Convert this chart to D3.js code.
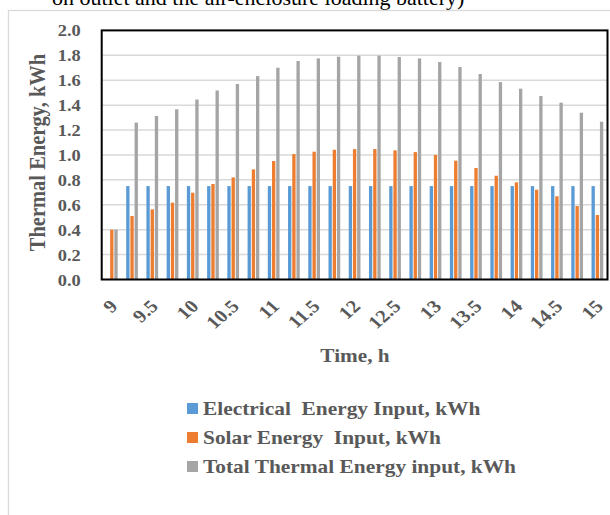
<!DOCTYPE html>
<html>
<head>
<meta charset="utf-8">
<script src="https://cdn.jsdelivr.net/npm/d3@7"></script>
<style>
  html, body { margin: 0; padding: 0; background: #fff; }
  svg { display: block; }
</style>
</head>
<body>
<svg id="chart" width="610" height="515"></svg>
<script>
// ---- data ----
const categories = ["9","9.25","9.5","9.75","10","10.25","10.5","10.75","11","11.25","11.5","11.75",
  "12","12.25","12.5","12.75","13","13.25","13.5","13.75","14","14.25","14.5","14.75","15"];
const tickLabels = ["9","9.5","10","10.5","11","11.5","12","12.5","13","13.5","14","14.5","15"];
const electrical = [0,0.75,0.75,0.75,0.75,0.75,0.75,0.75,0.75,0.75,0.75,0.75,0.75,0.75,0.75,0.75,0.75,0.75,0.75,0.75,0.75,0.75,0.75,0.75,0.75];
const solar = [0.40,0.51,0.563,0.617,0.697,0.767,0.82,0.884,0.951,1.007,1.026,1.042,1.047,1.047,1.037,1.023,1.0,0.954,0.895,0.833,0.78,0.721,0.668,0.59,0.518];
const total = [0.40,1.26,1.313,1.367,1.445,1.518,1.57,1.633,1.70,1.754,1.775,1.789,1.797,1.797,1.786,1.775,1.746,1.706,1.65,1.585,1.532,1.473,1.42,1.339,1.267];
const yTicks = [0,0.2,0.4,0.6,0.8,1.0,1.2,1.4,1.6,1.8,2.0];
const seriesNames = ["Electrical  Energy Input, kWh","Solar Energy  Input, kWh","Total Thermal Energy input, kWh"];
const seriesColors = ["#5b9bd5","#ed7d31","#a5a5a5"];
const seriesData = [electrical, solar, total];
const captionText = "on outlet and the air-enclosure loading battery)";

// ---- layout ----
const svg = d3.select("#chart");
const L = 101.7, R = 607.5, T = 30.4, B = 279.5;
const SX = 1.15; // horizontal stretch of the source picture's text
const txtColor = "#595959";
const serif = "'Liberation Serif','Times New Roman',serif";

// caption cropped at the top (as in the reference)
svg.append("text").attr("transform", `translate(52,5) scale(1.1,1)`)
  .attr("font-family", serif).attr("font-size", 20).attr("fill", "#000")
  .text(captionText);

// chart area border
svg.append("rect").attr("x", 8.5).attr("y", 10.5).attr("width", 700).attr("height", 600)
  .attr("fill", "none").attr("stroke", "#d9d9d9").attr("stroke-width", 1.3);

const x = d3.scaleBand().domain(categories).range([L, R]).paddingInner(0.42).paddingOuter(0.21);
const xs = d3.scaleBand().domain(d3.range(seriesData.length)).range([0, x.bandwidth()]).paddingInner(0.21).paddingOuter(0);
const y = d3.scaleLinear().domain([0, 2]).range([B, T]);

// gridlines
svg.append("g").selectAll("line").data(yTicks.filter(d => d > 0 && d < 2)).join("line")
  .attr("x1", L).attr("x2", R).attr("y1", d => y(d)).attr("y2", d => y(d))
  .attr("stroke", "#d9d9d9").attr("stroke-width", 1.5);

// bars
const groups = svg.append("g").selectAll("g").data(seriesData).join("g")
  .attr("fill", (d, i) => seriesColors[i]);
groups.each(function(vals, si) {
  d3.select(this).selectAll("rect").data(vals).join("rect")
    .attr("x", (v, i) => x(categories[i]) + xs(si))
    .attr("width", xs.bandwidth())
    .attr("y", v => y(v))
    .attr("height", v => y(0) - y(v));
});

// plot frame
svg.append("rect").attr("x", L).attr("y", T).attr("width", R - L).attr("height", B - T)
  .attr("fill", "none").attr("stroke", "#000").attr("stroke-width", 2);

// y axis
const yAxis = svg.append("g").attr("transform", `translate(${L},0)`)
  .call(d3.axisLeft(y).tickValues(yTicks).tickFormat(d3.format(".1f")).tickSize(0).tickPadding(0));
yAxis.select(".domain").remove();
yAxis.selectAll(".tick text").each(function(d) {
  const t = d3.select(this);
  const label = t.text();
  t.text(null).attr("x", null).attr("dy", null);
  t.attr("transform", `translate(-21,5.5) scale(${SX},1)`)
   .attr("text-anchor", "end").attr("font-family", serif).attr("font-size", 16)
   .attr("font-weight", "bold").attr("fill", txtColor).text(label);
});

// x axis (labels every other category)
const xAxis = svg.append("g").attr("transform", `translate(0,${B})`)
  .call(d3.axisBottom(x).tickValues(tickLabels).tickSize(0).tickPadding(0));
xAxis.select(".domain").remove();
xAxis.selectAll(".tick text").each(function(d) {
  const t = d3.select(this);
  const label = t.text();
  t.text(null).attr("y", null).attr("dy", null);
  t.attr("transform", `translate(7,28) scale(${SX},1) rotate(-45)`)
   .attr("text-anchor", "end").attr("font-family", serif).attr("font-size", 18)
   .attr("font-weight", "bold").attr("fill", txtColor).text(label);
});

// axis titles
svg.append("text").attr("transform", `translate(45,152.5) scale(${SX},1) rotate(-90)`)
  .attr("text-anchor", "middle").attr("font-family", serif).attr("font-size", 20.5)
  .attr("font-weight", "bold").attr("fill", txtColor).text("Thermal Energy, kWh");
svg.append("text").attr("transform", `translate(355,362) scale(${SX},1)`)
  .attr("text-anchor", "middle").attr("font-family", serif).attr("font-size", 18.5)
  .attr("font-weight", "bold").attr("fill", txtColor).text("Time, h");

// legend
const leg = svg.append("g").selectAll("g").data(seriesNames).join("g")
  .attr("transform", (d, i) => `translate(187,${415 + i * 29})`);
leg.append("rect").attr("x", 0).attr("y", -12).attr("width", 11).attr("height", 11)
  .attr("fill", (d, i) => seriesColors[i]);
leg.append("text").attr("transform", `translate(16,0) scale(${SX},1)`)
  .attr("font-family", serif).attr("font-size", 18.6).attr("font-weight", "bold")
  .attr("fill", txtColor).attr("xml:space", "preserve").style("white-space", "pre")
  .text(d => d);
</script>
</body>
</html>
